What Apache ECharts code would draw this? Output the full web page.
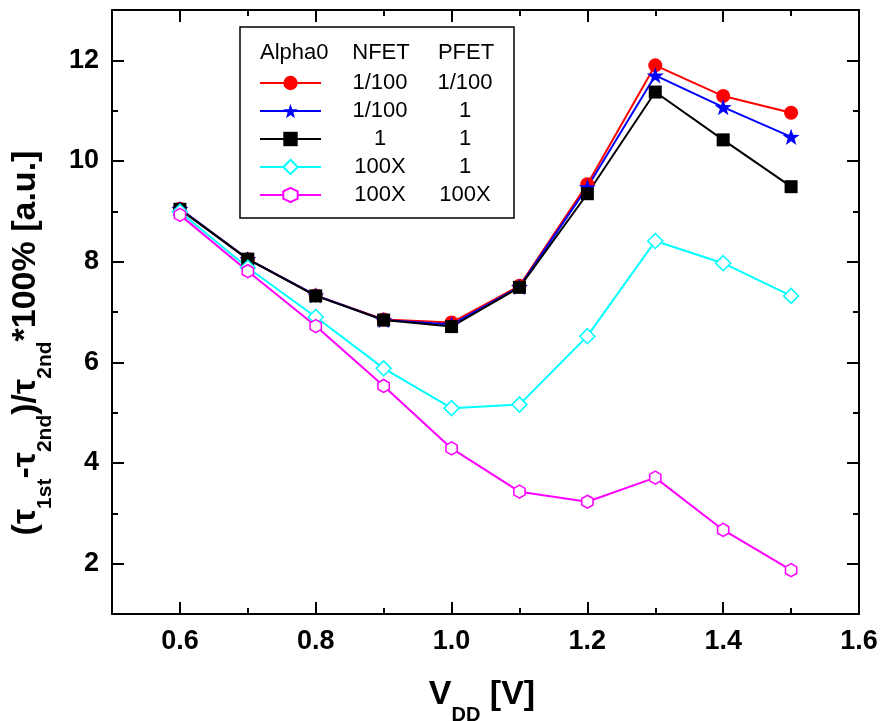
<!DOCTYPE html>
<html>
<head>
<meta charset="utf-8">
<script src="https://cdn.jsdelivr.net/npm/echarts@6/dist/echarts.min.js"></script>
<style>html,body{margin:0;padding:0;background:#fff;}#c{width:881px;height:721px;}</style>
</head>
<body>
<div id="c"></div>
<script>
var vdd = [0.6, 0.7, 0.8, 0.9, 1.0, 1.1, 1.2, 1.3, 1.4, 1.5];
var redVals = [9.05, 8.05, 7.33, 6.85, 6.79, 7.52, 9.54, 11.90, 11.29, 10.96];
var blueVals = [9.05, 8.05, 7.33, 6.84, 6.75, 7.50, 9.48, 11.70, 11.07, 10.48];
var blackVals = [9.04, 8.05, 7.32, 6.84, 6.71, 7.49, 9.35, 11.37, 10.42, 9.49];
var cyanVals = [8.99, 7.88, 6.90, 5.88, 5.09, 5.16, 6.52, 8.41, 7.97, 7.32];
var magentaVals = [8.93, 7.81, 6.72, 5.53, 4.29, 3.43, 3.23, 3.71, 2.67, 1.87];
var seriesNames = ['1/100|1/100', '1/100|1', '1|1', '100X|1', '100X|100X'];
var xMajor = [0.6, 0.8, 1.0, 1.2, 1.4, 1.6];
var yMajor = [2, 4, 6, 8, 10, 12];

var STAR = 'path://M0,-10 L2.35,-3.24 L9.51,-3.09 L3.8,1.24 L5.88,8.09 L0,4 L-5.88,8.09 L-3.8,1.24 L-9.51,-3.09 L-2.35,-3.24 Z';
var HEX = 'path://M0,-10 L8.66,-5 L8.66,5 L0,10 L-8.66,5 L-8.66,-5 Z';

function pts(vals){ return vdd.map(function(x,i){ return [x, vals[i]]; }); }

var chart = echarts.init(document.getElementById('c'), null, {renderer:'canvas'});
var FONT = 'Liberation Sans';
function xa(pos, len, custom, labels, line){
  return {
    type:'value', position:pos, min:0.5, max:1.6, interval:0.1,
    axisLine:{show:line, onZero:false, lineStyle:{color:'#000', width:2}},
    axisTick:{show:true, inside:true, length:len, lineStyle:{color:'#000', width:2}, customValues: custom || undefined},
    axisLabel:{show:labels, customValues: labels ? xMajor : undefined, formatter:function(v){return v.toFixed(1);},
      fontFamily:FONT, fontWeight:'bold', fontSize:27, color:'#000', margin:14},
    splitLine:{show:false}
  };
}
function ya(pos, len, custom, labels, line){
  return {
    type:'value', position:pos, min:1, max:13, interval:1,
    axisLine:{show:line, onZero:false, lineStyle:{color:'#000', width:2}},
    axisTick:{show:true, inside:true, length:len, lineStyle:{color:'#000', width:2}, customValues: custom || undefined},
    axisLabel:{show:labels, customValues: labels ? yMajor : undefined,
      fontFamily:FONT, fontWeight:'bold', fontSize:27, color:'#000', margin:13},
    splitLine:{show:false}
  };
}

function lineSeries(name, vals, color, symbol, size, hollow){
  return {
    name:name, type:'line', data:pts(vals), xAxisIndex:0, yAxisIndex:0,
    symbol:symbol, symbolSize:size, symbolKeepAspect:true,
    lineStyle:{color:color, width:2},
    itemStyle: hollow ? {color:'#fff', borderColor:color, borderWidth:1.5} : {color:color, borderWidth:0},
    emphasis:{disabled:true}, animation:false, z:2
  };
}

var option = {
  backgroundColor:'#fff',
  animation:false,
  grid:{left:112, right:22, top:10, bottom:107, containLabel:false},
  xAxis:[ xa('bottom',6,null,true,true), xa('bottom',12,xMajor,false,false), xa('top',6,null,false,true), xa('top',12,xMajor,false,false) ],
  yAxis:[ ya('left',6,null,true,true), ya('left',12,yMajor,false,false), ya('right',6,null,false,true), ya('right',12,yMajor,false,false) ],
  legend:{
    show:true, orient:'vertical', left:254, top:67, itemWidth:61, itemHeight:18, itemGap:6,
    selectedMode:false,
    data: seriesNames,
    textStyle:{fontFamily:FONT, fontSize:22, color:'#000', lineHeight:22,
      rich:{a:{width:108, align:'center', fontFamily:FONT, fontSize:22, lineHeight:22},
            b:{width:62, align:'center', fontFamily:FONT, fontSize:22, lineHeight:22}}},
    formatter:function(n){ var p=n.split('|'); return '{a|'+p[0]+'}{b|'+p[1]+'}'; }
  },
  graphic:[
    {type:'rect', shape:{x:240, y:27, width:274, height:191}, style:{fill:'none', stroke:'#000', lineWidth:1.5}, z:10},
    {type:'text', x:260, y:53, style:{text:'Alpha0', fontFamily:FONT, fontSize:22, fill:'#000', align:'left', verticalAlign:'middle'}, z:10},
    {type:'text', x:381, y:53, style:{text:'NFET', fontFamily:FONT, fontSize:22, fill:'#000', align:'center', verticalAlign:'middle'}, z:10},
    {type:'text', x:466, y:53, style:{text:'PFET', fontFamily:FONT, fontSize:22, fill:'#000', align:'center', verticalAlign:'middle'}, z:10},
    {type:'text', x:482, y:695, style:{
      text:'{m|V}{s|DD}{m| [V]}', align:'center', verticalAlign:'middle',
      rich:{m:{fontFamily:FONT, fontWeight:'bold', fontSize:34, lineHeight:38, fill:'#000'},
            s:{fontFamily:FONT, fontWeight:'bold', fontSize:20, lineHeight:20, padding:[40,0,0,0], fill:'#000'}}}, z:10},
    {type:'text', x:26, y:343, rotation:Math.PI/2, style:{
      text:'{m|(τ}{s|1st}{m|-τ}{s|2nd}{m|)/τ}{s|2nd}{m|*100% [a.u.]}', align:'center', verticalAlign:'middle',
      rich:{m:{fontFamily:FONT, fontWeight:'bold', fontSize:34, lineHeight:38, fill:'#000'},
            s:{fontFamily:FONT, fontWeight:'bold', fontSize:21, lineHeight:21, padding:[38,0,0,0], fill:'#000'}}}, z:10}
  ],
  series:[
    lineSeries(seriesNames[0], redVals, '#ff0000', 'circle', 14, false),
    lineSeries(seriesNames[1], blueVals, '#0000ff', STAR, 17, false),
    lineSeries(seriesNames[2], blackVals, '#000000', 'rect', 13, false),
    lineSeries(seriesNames[3], cyanVals, '#00ffff', 'diamond', 15, true),
    lineSeries(seriesNames[4], magentaVals, '#ff00ff', HEX, 13, true)
  ]
};
chart.setOption(option);
</script>
</body>
</html>
